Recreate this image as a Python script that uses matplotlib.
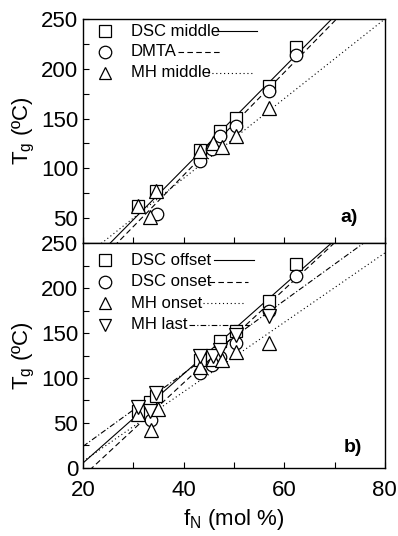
import numpy as np
import matplotlib
matplotlib.use("Agg")
import matplotlib.pyplot as plt

plt.rcParams['font.family'] = ['Liberation Sans', 'DejaVu Sans']
plt.rcParams['mathtext.default'] = 'regular'

# panel a) data
a_dsc_x = [30.9, 34.6, 43.3, 47.2, 50.5, 57.0, 62.3]
a_dsc_y = [62, 77, 118, 137, 151, 183, 222]
a_dmta_x = [34.7, 43.3, 45.7, 47.2, 50.5, 57.0, 62.3]
a_dmta_y = [54, 107, 119, 132, 143, 178, 214]
a_mh_x = [30.9, 33.4, 34.6, 43.3, 45.9, 47.6, 50.5, 57.0]
a_mh_y = [62, 51, 77, 117, 125, 121, 132, 161]
# fitted lines (slope, intercept)
a_fits = [(5.11, -104.9), (5.16, -113.3), (4.0, -70.0)]
a_labels = ['DSC middle', 'DMTA', 'MH middle']

# panel b) data
b_off_x = [30.9, 33.3, 34.6, 43.2, 45.7, 47.2, 50.5, 57.0, 62.3]
b_off_y = [63, 73, 80, 120, 124, 141, 152, 186, 227]
b_on_x = [33.6, 43.2, 45.7, 47.2, 50.5, 57.0, 62.3]
b_on_y = [53, 105, 115, 123, 139, 174, 213]
b_mho_x = [30.9, 33.6, 34.9, 43.2, 45.9, 47.6, 50.5, 57.0]
b_mho_y = [60, 42, 66, 112, 121, 120, 129, 139]
b_mhl_x = [30.9, 33.3, 34.6, 43.2, 45.9, 47.2, 50.5, 57.0]
b_mhl_y = [68, 63, 83, 124, 125, 131, 148, 169]
b_fits = [(4.95, -93.5), (5.19, -113.0), (3.86, -69.8), (4.05, -57.0)]
b_labels = ['DSC offset', 'DSC onset', 'MH onset', 'MH last']

styles = ['-', (0, (5, 3)), (0, (1, 2.5)), (0, (5, 2, 1, 2))]
lw = 0.8
mk = dict(mfc='white', mec='black', mew=0.9, ls='none', clip_on=False, zorder=3)

fig = plt.figure(figsize=(3.98, 5.36), dpi=100)
ax1 = fig.add_axes([0.2085, 0.5466, 0.7585, 0.418])
ax2 = fig.add_axes([0.2085, 0.1269, 0.7585, 0.4197])

xx = np.array([20, 80])

# panel a
ax1.plot(a_dsc_x, a_dsc_y, marker='s', ms=8, **mk)
ax1.plot(a_dmta_x, a_dmta_y, marker='o', ms=9, **mk)
ax1.plot(a_mh_x, a_mh_y, marker='^', ms=9.5, **mk)
for (m, b), st in zip(a_fits, styles):
    ax1.plot(xx, m * xx + b, color='black', lw=lw, ls=st)

# panel b
ax2.plot(b_off_x, b_off_y, marker='s', ms=8, **mk)
ax2.plot(b_on_x, b_on_y, marker='o', ms=9, **mk)
ax2.plot(b_mho_x, b_mho_y, marker='^', ms=9.5, **mk)
ax2.plot(b_mhl_x, b_mhl_y, marker='v', ms=9.5, **mk)
for (m, b), st in zip(b_fits, styles):
    ax2.plot(xx, m * xx + b, color='black', lw=lw, ls=st)

# hand made legends: marker, text, line sample
def legend(ax, labels, markers, ys, line_x):
    for lab, mkr, y, (x0, x1), st in zip(labels, markers, ys, line_x, styles):
        ax.plot([0.0745], [y], marker=mkr, ms=9, mfc='white', mec='black',
                mew=0.9, transform=ax.transAxes, clip_on=False)
        ax.text(0.159, y, lab, fontsize=12, va='center', ha='left',
                transform=ax.transAxes)
        ax.plot([x0, x1], [y, y], color='black', lw=lw, ls=st,
                transform=ax.transAxes)

legend(ax1, a_labels, ['s', 'o', '^'], [0.946, 0.853, 0.759],
       [(0.440, 0.576), (0.314, 0.460), (0.414, 0.560)])
legend(ax2, b_labels, ['s', 'o', '^', 'v'], [0.924, 0.827, 0.733, 0.636],
       [(0.433, 0.566), (0.417, 0.546), (0.397, 0.530), (0.351, 0.553)])

ax1.text(0.881, 0.112, 'a)', fontsize=14, fontweight='bold', ha='center',
         va='center', transform=ax1.transAxes)
ax2.text(0.894, 0.093, 'b)', fontsize=14, fontweight='bold', ha='center',
         va='center', transform=ax2.transAxes)

for ax in (ax1, ax2):
    ax.set_xlim(20, 80)
    ax.set_xticks([20, 40, 60, 80])
    ax.set_xticks(np.arange(30, 80, 20), minor=True)
    ax.tick_params(which='both', direction='in', length=4, width=0.8,
                   labelsize=16, top=False, right=False)
    ax.tick_params(axis='x', pad=9)
    for s in ax.spines.values():
        s.set_linewidth(1.0)
    ax.set_ylabel('T$_g$ (\u00baC)', fontsize=16, labelpad=3)

ax1.set_ylim(25, 250)
ax1.set_yticks([50, 100, 150, 200, 250])
ax1.set_yticks([75, 125, 175, 225], minor=True)
ax1.tick_params(labelbottom=False)

ax2.set_ylim(0, 250)
ax2.set_yticks([0, 50, 100, 150, 200, 250])
ax2.set_yticks([25, 75, 125, 175, 225], minor=True)
ax2.set_xlabel('f$_N$ (mol %)', fontsize=16, labelpad=4)

fig.savefig('out.png', dpi=100)
